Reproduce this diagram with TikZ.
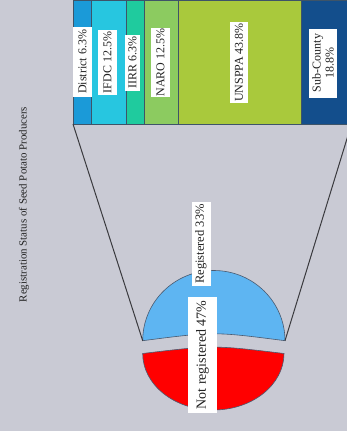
\documentclass[tikz,border=0pt]{standalone}
\usepackage{fontspec}
\setmainfont{Liberation Serif}
\definecolor{bg}{HTML}{C9CAD4}
\definecolor{cDistrict}{HTML}{1B9AD8}
\definecolor{cIFDC}{HTML}{27C6E0}
\definecolor{cIIRR}{HTML}{1FCB9E}
\definecolor{cNARO}{HTML}{8CCB60}
\definecolor{cUNSPPA}{HTML}{A9C93C}
\definecolor{cSub}{HTML}{134E8C}
\definecolor{cBlue}{HTML}{5EB5F2}
\definecolor{cRed}{HTML}{FF0000}
\definecolor{segline}{HTML}{3E5468}
\definecolor{connc}{HTML}{3A3A3E}
\definecolor{pieline}{HTML}{4A5A70}
\definecolor{txt}{HTML}{222222}
\begin{document}
\begin{tikzpicture}[x=1pt,y=-1pt,
  seg/.style={draw=segline, line width=0.5pt, minimum height=124pt, anchor=north west, inner sep=0pt, outer sep=0pt},
  lbl/.style={fill=white, text=txt, rotate=90, inner sep=0pt, font=\fontsize{12}{13}\selectfont, align=center},
  conn/.style={draw=connc, line width=1pt},
  slice/.style={draw=pieline, line width=0.6pt}]
\useasboundingbox (0,0) rectangle (347,431);
\fill[bg] (0,0) rectangle (347,431);
\begin{scope}
\clip (0,0) rectangle (347,431);
% bar
\node[seg, fill=cDistrict, minimum width=18pt] (district) at (73,0) {};
\node[seg, fill=cIFDC, minimum width=35pt] (ifdc) at (district.north east) {};
\node[seg, fill=cIIRR, minimum width=18pt] (iirr) at (ifdc.north east) {};
\node[seg, fill=cNARO, minimum width=34pt] (naro) at (iirr.north east) {};
\node[seg, fill=cUNSPPA, minimum width=123.5pt] (unsppa) at (naro.north east) {};
\node[seg, fill=cSub, minimum width=50pt] (sub) at (unsppa.north east) {};
% bar labels
\node[lbl, minimum width=70pt, minimum height=19pt] (lDistrict) at (82.5,62) {District 6.3\%};
\node[lbl, minimum width=65pt, minimum height=19pt] (lIFDC) at (107.5,62.5) {IFDC 12.5\%};
\node[lbl, minimum width=56pt, minimum height=15pt] (lIIRR) at (132.5,62.5) {IIRR 6.3\%};
\node[lbl, minimum width=69pt, minimum height=19pt] (lNARO) at (160.5,62.5) {NARO 12.5\%};
\node[lbl, minimum width=81pt, minimum height=18pt] (lUNSPPA) at (239,62.5) {UNSPPA 43.8\%};
\node[lbl, minimum width=69pt, minimum height=28pt] (lSub) at (323,63) {Sub-County\\18.8\%};
% pie slices
\coordinate (BL) at (142.7,340.7);
\coordinate (BR) at (285,340.7);
\coordinate (RL) at (142.7,353.5);
\coordinate (RR) at (284,353.5);
\path[slice, fill=cBlue] (BL) arc[start angle=180, end angle=0, x radius=71.15pt, y radius=70.2pt]
   .. controls (213.85,331.5) .. (BL) -- cycle;
\path[slice, fill=cRed] (RL) arc[start angle=180, end angle=360, x radius=70.65pt, y radius=56.5pt]
   .. controls (213.35,345) .. (RL) -- cycle;
% connectors
\draw[conn] (district.south west) -- (BL);
\draw[conn] (sub.south east) -- (BR);
% pie labels
\node[lbl, font=\fontsize{12.5}{14}\selectfont, minimum width=84pt, minimum height=19pt] (lReg) at (201,244) {Registered 33\%};
\node[lbl, font=\fontsize{14}{15}\selectfont, minimum width=116pt, minimum height=29pt] (lNot) at (202.5,355) {Not registered 47\%};
% title
\node[rotate=90, inner sep=0pt, text=txt, font=\fontsize{10.9}{12}\selectfont] (title) at (24,204.5) {Registration Status of Seed Potato Producers};
\end{scope}
\end{tikzpicture}
\end{document}
